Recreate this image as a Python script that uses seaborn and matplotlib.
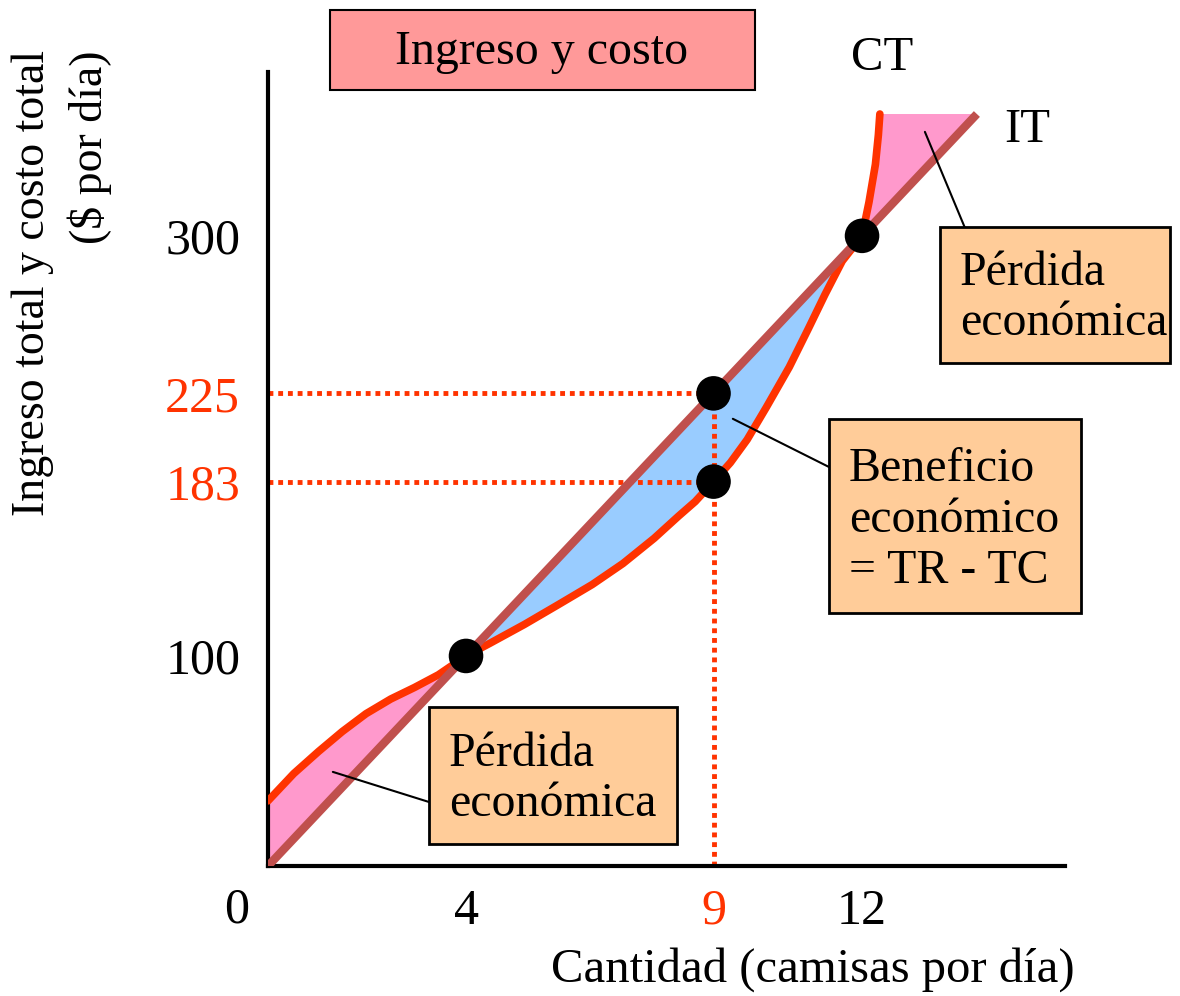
import numpy as np
import matplotlib
matplotlib.use("Agg")
import matplotlib.pyplot as plt
from matplotlib.patches import Rectangle
import seaborn as sns

# --- data ---
quantity = [0, 0.52, 1.02, 1.5, 1.98, 2.48, 2.96, 3.44, 4, 4.48, 5.18, 5.87,
            6.55, 7.17, 7.8, 8.29, 8.63, 9, 9.34, 9.68, 10.07, 10.53, 10.92,
            11.25, 11.6, 12, 12.14, 12.27, 12.33, 12.36]
total_cost = [31, 44, 54.5, 64, 72.5, 79.5, 85, 91, 100, 106, 115, 124.5,
              134, 144, 156, 166.5, 173.5, 183, 192, 203, 218.5, 237.5, 256,
              272, 288, 300, 316, 334, 348, 358]
revenue_q = [0, 14.32]
total_revenue = [0, 358]

point_q = [4, 9, 9, 12]
point_v = [100, 225, 183, 300]

x_ticks = [4, 9, 12]
x_labels = ["4", "9", "12"]
x_label_colors = ["black", "#FF3300", "black"]
y_ticks = [100, 183, 225, 300]
y_labels = ["100", "183", "225", "300"]
y_label_colors = ["black", "#FF3300", "#FF3300", "black"]

W, H = 1180, 996
RED = "#FF3300"
IT_COLOR = "#C0504D"
PINK = "#FF99CC"
BLUE = "#99CCFF"
PEACH = "#FFCC99"
TITLE_BG = "#FF9999"


def fx(px):
    return px / W


def fy(py):
    return 1 - py / H


sns.set_theme(style="white")
plt.rcParams["font.family"] = ["Liberation Serif", "DejaVu Serif"]
plt.rcParams["text.color"] = "black"

fig = plt.figure(figsize=(W / 100, H / 100), dpi=100)
ax = fig.add_axes([fx(268), fy(866), (1065 - 268) / W, (866 - 72) / H])
ax.set_xlim(0, 16.1)
ax.set_ylim(0, 378)

# shaded areas between the curves
qg = np.linspace(0, revenue_q[-1], 1200)
ct_g = np.interp(qg, quantity, total_cost)
it_g = np.interp(qg, revenue_q, total_revenue)
ax.fill_between(qg, it_g, ct_g, where=ct_g >= it_g, color=PINK,
                interpolate=True, lw=0, zorder=1)
ax.fill_between(qg, it_g, ct_g, where=it_g >= ct_g, color=BLUE,
                interpolate=True, lw=0, zorder=1)

# dotted guides
for v in [225, 183]:
    ax.plot([0, 9], [v, v], color=RED, lw=3.5, ls=(0, (1, 1)), zorder=2)
ax.plot([9, 9], [0, 225], color=RED, lw=3.5, ls=(0, (1, 1)), zorder=2)

# curves
sns.lineplot(x=quantity, y=total_cost, ax=ax, color=RED, lw=5.5,
             solid_capstyle="round", solid_joinstyle="round", zorder=3)
sns.lineplot(x=revenue_q, y=total_revenue, ax=ax, color=IT_COLOR, lw=6,
             solid_capstyle="butt", zorder=4)
sns.scatterplot(x=point_q, y=point_v, ax=ax, color="black", s=620,
                edgecolor="none", zorder=5)

# axes styling
sns.despine(ax=ax)
for side in ["left", "bottom"]:
    ax.spines[side].set_linewidth(3)
    ax.spines[side].set_color("black")
ax.set_xticks(x_ticks)
ax.set_xticklabels(x_labels, fontsize=36)
for lab, c in zip(ax.get_xticklabels(), x_label_colors):
    lab.set_color(c)
ax.set_yticks(y_ticks)
ax.set_yticklabels(y_labels, fontsize=36)
for lab, c in zip(ax.get_yticklabels(), y_label_colors):
    lab.set_color(c)
ax.tick_params(axis="x", length=0, pad=16)
ax.tick_params(axis="y", length=0, pad=20)
ax.set_xlabel("")
ax.set_ylabel("")

fig.text(fx(237), fy(910), "0", ha="center", va="center", fontsize=36)
fig.text(fx(1075), fy(970), "Cantidad (camisas por día)", ha="right",
         va="center", fontsize=35)
fig.text(fx(62), fy(50), "Ingreso total y costo total\n($ por día)",
         rotation=90, ha="center", va="top", multialignment="right",
         fontsize=33, linespacing=1.4)
fig.text(fx(882), fy(58), "CT", ha="center", va="center", fontsize=35)
fig.text(fx(1027), fy(130), "IT", ha="center", va="center", fontsize=35)


def box(x0, y0, x1, y1, color, lw=2):
    fig.add_artist(Rectangle((fx(x0), fy(y1)), (x1 - x0) / W, (y1 - y0) / H,
                             transform=fig.transFigure, facecolor=color,
                             edgecolor="black", lw=lw, zorder=1))


box(330, 10, 755, 90, TITLE_BG, lw=1.5)
fig.text(fx(542), fy(52), "Ingreso y costo", ha="center", va="center",
         fontsize=34.5)

box(940, 227, 1170, 363, PEACH)
fig.text(fx(960), fy(298), "Pérdida\neconómica", ha="left", va="center",
         fontsize=34.5, zorder=2)

box(829, 419, 1081, 613, PEACH)
fig.text(fx(849), fy(520), "Beneficio\neconómico\n= TR - TC", ha="left",
         va="center", fontsize=34.5, zorder=2)

box(429, 707, 677, 844, PEACH)
fig.text(fx(449), fy(779), "Pérdida\neconómica", ha="left", va="center",
         fontsize=34.5, zorder=2)

# leader lines from regions to boxes
leaders = [((13.27, 349.5), (970, 240)),
           ((9.39, 212.9), (829, 467)),
           ((1.31, 44.8), (429, 802))]
for (q, v), (px, py) in leaders:
    ax.annotate("", xy=(q, v), xytext=(fx(px), fy(py)),
                textcoords="figure fraction",
                arrowprops=dict(arrowstyle="-", color="black", lw=1.5,
                                shrinkA=0, shrinkB=0), zorder=6)

fig.savefig("out.png", dpi=100)
